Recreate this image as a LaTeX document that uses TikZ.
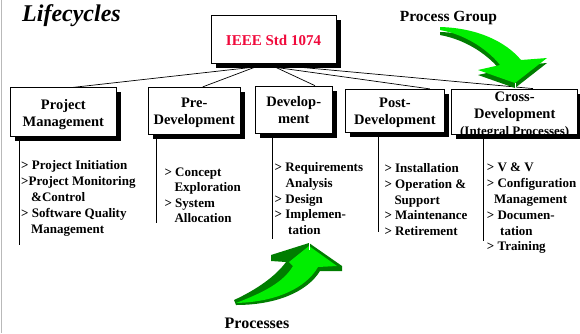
\documentclass[tikz,border=0pt]{standalone}
\usepackage{fontspec}
\setmainfont{Liberation Serif}
\usetikzlibrary{shadows}
\pgfdeclarelayer{background}
\pgfsetlayers{background,main}

\definecolor{stdred}{RGB}{240,10,60}
\definecolor{arrowlight}{RGB}{0,238,0}
\definecolor{arrowdark}{RGB}{0,125,0}
\definecolor{edgegray}{RGB}{185,185,185}

% stacked lines: centred for box captions, flush left for item lists
\newcommand{\cardlines}[1]{\begin{tabular}[t]{@{}c@{}}#1\end{tabular}}
\newcommand{\itemlines}[1]{\begin{tabular}[t]{@{}l@{}}#1\end{tabular}}

\tikzset{
  card/.style={draw=black, line width=0.8pt, fill=white, inner sep=0pt,
    drop shadow={shadow xshift=4.5pt, shadow yshift=-4.5pt, fill=black, opacity=1}},
  heading/.style={anchor=base, inner sep=0pt, font=\fontsize{14.5}{17}\selectfont\bfseries},
  items/.style={anchor=base west, inner sep=0pt, font=\fontsize{13}{#1}\selectfont\bfseries},
  items/.default=15.8,
  link/.style={draw=black, line width=0.7pt},
  caption/.style={anchor=base, inner sep=0pt, font=\fontsize{15.5}{18}\selectfont\bfseries},
}

\begin{document}
\begin{tikzpicture}[x=1pt, y=-1pt]
\useasboundingbox (0,0) rectangle (580,333);

% page edge rule
\draw[edgegray, line width=1.2pt] (1.5,0) -- (1.5,333);

% title
\node[anchor=base west, inner sep=0pt, font=\fontsize{24}{28}\selectfont\bfseries\itshape]
  (title) at (22,21) {Lifecycles};

% root standard
\node[card, minimum width=125pt, minimum height=48.3pt] (ieee) at (274.2,39.2) {};
\node[heading, font=\fontsize{15}{18}\selectfont\bfseries, text=stdred] (ieeeT) at (273.5,45) {IEEE Std 1074};

% process group boxes
\node[card, minimum width=105.3pt, minimum height=48.3pt] (pm)    at (63.4,111.9)  {};
\node[card, minimum width=91.7pt,  minimum height=47pt]   (pre)   at (194.2,110.8) {};
\node[card, minimum width=77.3pt,  minimum height=47.3pt] (dev)   at (293.7,109.7) {};
\node[card, minimum width=98.3pt,  minimum height=43.4pt] (post)  at (394.9,111)   {};
\node[card, minimum width=126pt,   minimum height=45pt]   (cross) at (514.7,111.5) {};

\node[heading] (pmT)    at (63.4,109)  {\cardlines{Project\\Management}};
\node[heading] (preT)   at (194.2,107.3) {\cardlines{Pre-\\Development}};
\node[heading] (devT)   at (293.7,106) {\cardlines{Develop-\\ment}};
\node[heading] (postT)  at (394.9,107.7) {\cardlines{Post-\\Development}};
\node[heading] (crossT) at (514.7,101.7) {\cardlines{Cross-\\Development}};
\node[anchor=base, inner sep=0pt, font=\fontsize{13}{15}\selectfont\bfseries]
  (crossSub) at (514.7,135) {(Integral Processes)};
% the box shadow runs across the subtitle
\fill[black] ([xshift=4.5pt]cross.south west) rectangle ([xshift=4.5pt,yshift=-4.5pt]cross.south east);

% connectors from the standard to each group, and the list rules
\coordinate (pmEnd)    at (19,245);
\coordinate (preEnd)   at (156,223);
\coordinate (devEnd)   at (272,238.5);
\coordinate (postEnd)  at (378,232);
\coordinate (crossEnd) at (483,241);
\begin{pgfonlayer}{background}
  \draw[link] ([xshift=9.8pt]ieee.south)   -- ([xshift=10pt]pm.north);
  \draw[link] ([xshift=-10.2pt]ieee.south) -- ([xshift=8.5pt]pre.north);
  \draw[link] ([xshift=-6.2pt]ieee.south)  -- ([xshift=21.3pt]dev.north);
  \draw[link] ([xshift=-24.2pt]ieee.south) -- ([xshift=35pt]post.north);
  \draw[link] ([xshift=-12.2pt]ieee.south) -- ([xshift=18.3pt]cross.north);
  \draw[link] (pmEnd |- pm.south)       -- (pmEnd);
  \draw[link] (preEnd |- pre.south)     -- (preEnd);
  \draw[link] (devEnd |- dev.south)     -- (devEnd);
  \draw[link] (postEnd |- post.south)   -- (postEnd);
  \draw[link] (crossEnd |- cross.south) -- (crossEnd);
\end{pgfonlayer}

% process lists
\node[items=16] (pmL) at (21,169.3)
  {\itemlines{> Project Initiation\\>Project Monitoring\\\hspace*{10pt}\&Control\\> Software Quality\\\hspace*{10pt}Management}};
\node[items=15.6] (preL) at (164.3,176)
  {\itemlines{> Concept\\\hspace*{10pt}Exploration\\> System\\\hspace*{10pt}Allocation}};
\node[items=15.65] (devL) at (274.5,171.7)
  {\itemlines{> Requirements\\\hspace*{11pt}Analysis\\> Design\\> Implemen-\\\hspace*{13.5pt}tation}};
\node[items=15.75] (postL) at (384.3,172.7)
  {\itemlines{> Installation\\> Operation \&\\\hspace*{10pt}Support\\> Maintenance\\> Retirement}};
\node[items=15.85] (crossL) at (486.7,171.7)
  {\itemlines{> V \& V\\> Configuration\\\hspace*{7.3pt}Management\\> Documen-\\\hspace*{13.3pt}tation\\> Training}};

% captions
\node[caption] (groupCap) at (448.5,21.7) {Process Group};
\node[caption, font=\fontsize{16}{19}\selectfont\bfseries] (procCap) at (257,328) {Processes};

% green 3-D arrow pointing down at the cross-development group
\fill[arrowdark] (440,32) .. controls (478,33) and (506,47) .. (521,65) -- (547,63) -- (515,88)
  -- (478,75) -- (500,70) .. controls (490,57) and (468,40) .. (440,35) -- cycle;
\fill[arrowlight] (440,27) .. controls (478,28) and (506,42) .. (521,60) -- (547,58) -- (515,83)
  -- (478,70) -- (500,65) .. controls (490,52) and (468,35) .. (440,30) -- cycle;
\draw[white, line width=0.6pt] (515,83) -- (515,88);

% green 3-D arrow rising towards the development processes
\fill[arrowdark] (234,300) .. controls (256,290) and (276,276) .. (286,262) -- (271,261) -- (271,255)
  -- (309,243) -- (342,266) -- (342,271) -- (320,271)
  .. controls (307,292) and (276,305) .. (236,305) -- cycle;
\fill[arrowlight] (236,303) .. controls (262,293) and (283,283) .. (293,266) -- (289,262)
  -- (309,246) -- (337,266) -- (318,267)
  .. controls (306,288) and (276,302) .. (236,303) -- cycle;
\draw[white, line width=0.6pt] (309,243) -- (309,250);

\end{tikzpicture}
\end{document}
